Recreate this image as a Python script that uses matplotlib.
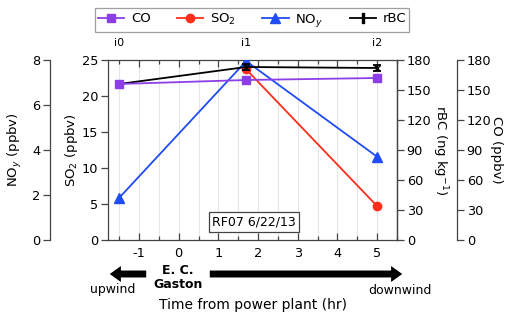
import matplotlib
matplotlib.use('Agg')
import matplotlib.pyplot as plt
from matplotlib.patches import FancyArrowPatch
from matplotlib.lines import Line2D
import matplotlib.transforms as mtransforms
import numpy as np

# --- data ---
labels = ['i0', 'i1', 'i2']
time_hr = [-1.5, 1.7, 5.0]

co_ppbv = [156, 160, 162]
rbc_ngkg = [156, 173, 172]
rbc_err = [2.5, 3, 3]
so2_time = [1.7, 5.0]
so2_ppbv = [23.7, 4.7]
noy_ppbv = [1.87, 7.95, 3.7]

purple = '#8c3fe6'
red = '#ff2d1a'
blue = '#1f4cf5'
spine_col = '#444444'

plt.rcParams['font.family'] = 'DejaVu Sans'
plt.rcParams['font.size'] = 10
plt.rcParams['axes.unicode_minus'] = False

fig = plt.figure(figsize=(5.11, 3.17), dpi=100)
W, H = 511, 317
ax = fig.add_axes([108 / W, 1 - 240 / H, 289 / W, 180 / H])

ax_noy = ax.twinx()
ax_rbc = ax.twinx()
ax_co = ax.twinx()

# NOy axis on the far left
ax_noy.yaxis.set_label_position('left')
ax_noy.yaxis.set_ticks_position('left')
ax_noy.spines['left'].set_position(('axes', -58 / 289))
for s in ['right', 'top', 'bottom']:
    ax_noy.spines[s].set_visible(False)

# CO axis on the far right
ax_co.spines['right'].set_position(('axes', (457 - 108) / 289))
for s in ['left', 'top', 'bottom']:
    ax_co.spines[s].set_visible(False)
for s in ['left', 'top', 'bottom']:
    ax_rbc.spines[s].set_visible(False)

for a in [ax, ax_noy, ax_rbc, ax_co]:
    for s in a.spines.values():
        s.set_color(spine_col)
        s.set_linewidth(0.9)
    a.tick_params(axis='y', direction='out', length=5, color=spine_col, width=0.9, pad=2,
                  labelsize=9.3)

ax.set_xlim(-1.78, 5.5)
ax.set_ylim(0, 25)
ax_noy.set_ylim(0, 8)
ax_rbc.set_ylim(0, 180)
ax_co.set_ylim(0, 180)

ax.set_xticks(np.arange(-1, 6, 1))
ax.set_xticks(np.arange(-1.5, 5.6, 0.5), minor=True)
ax.set_yticks(np.arange(0, 26, 5))
ax_noy.set_yticks(np.arange(0, 9, 2))
ax_rbc.set_yticks(np.arange(0, 181, 30))
ax_co.set_yticks(np.arange(0, 181, 30))

ax.tick_params(axis='x', which='both', direction='in', top=True, color=spine_col, width=0.9,
               labelsize=9.3)
ax.tick_params(axis='x', which='major', length=5, pad=5)
ax.tick_params(axis='x', which='minor', length=3)
ax.grid(axis='x', which='both', color='#e6e6e6', linewidth=0.8)
ax.set_axisbelow(True)

# axis labels placed at the positions seen in the reference
ax.set_ylabel('SO$_2$ (ppbv)', fontsize=9.5, va='center')
ax_noy.set_ylabel('NO$_y$ (ppbv)', fontsize=9.5, va='center')
ax_rbc.set_ylabel('rBC (ng kg$^{-1}$)', rotation=270, fontsize=9.5, va='center')
ax_co.set_ylabel('CO (ppbv)', rotation=270, fontsize=9.5, va='center')
ax.yaxis.set_label_coords((72 - 108) / 289, 0.5)
ax_noy.yaxis.set_label_coords((15 - 108) / 289, 0.5)
ax_rbc.yaxis.set_label_coords((440 - 108) / 289, 0.5)
ax_co.yaxis.set_label_coords((496 - 108) / 289, 0.5)

# --- series ---
ax_co.plot(time_hr, co_ppbv, color=purple, marker='s', markersize=6, linewidth=1.3)
ax_rbc.errorbar(time_hr, rbc_ngkg, yerr=rbc_err, color='black', marker='x', markersize=5,
                linewidth=1.3, capsize=3, elinewidth=1.3, capthick=1.3)
ax.plot(so2_time, so2_ppbv, color=red, marker='o', markersize=6, linewidth=1.3)
ax_noy.plot(time_hr, noy_ppbv, color=blue, marker='^', markersize=6.5, linewidth=1.3)

# labels above the intercepts
trans = mtransforms.blended_transform_factory(ax.transData, ax.transAxes)
for t, lab in zip(time_hr, labels):
    ax.text(t, 1 + 17 / 180, lab, transform=trans, ha='center', va='center', fontsize=8)

ax_noy.text((254 - 108) / 289, 18 / 180, 'RF07 6/22/13', transform=ax.transAxes,
            ha='center', va='center', fontsize=9,
            bbox=dict(boxstyle='square,pad=0.25', fc='white', ec=spine_col, lw=0.9))

# --- legend ---
handles = [
    Line2D([], [], color=purple, marker='s', markersize=6, linewidth=1.3),
    Line2D([], [], color=red, marker='o', markersize=6, linewidth=1.3),
    Line2D([], [], color=blue, marker='^', markersize=6.5, linewidth=1.3),
    Line2D([], [], color='black', marker='$\\mathbf{I}$', markersize=7, linewidth=1.3),
]
leg = fig.legend(handles, ['CO', 'SO$_2$', 'NO$_y$', 'rBC'], ncol=4, loc='center',
                 bbox_to_anchor=(252 / W, 1 - 20 / H), frameon=True, fancybox=False,
                 edgecolor='#888888', fontsize=9.5, columnspacing=2.0, handlelength=2.0,
                 handletextpad=0.5, borderpad=0.25, borderaxespad=0)
leg.get_frame().set_linewidth(0.9)

# --- upwind / downwind arrows ---
def fx(px):
    return px / W

def fy(py):
    return 1 - py / H

style = 'simple,head_length=8,head_width=11.5,tail_width=5'
fig.patches.append(FancyArrowPatch((fx(149), fy(274)), (fx(107), fy(274)), transform=fig.transFigure,
                                   arrowstyle=style, mutation_scale=1, color='black', lw=0))
fig.patches.append(FancyArrowPatch((fx(207), fy(274)), (fx(405), fy(274)), transform=fig.transFigure,
                                   arrowstyle=style, mutation_scale=1, color='black', lw=0))

fig.text(fx(178), fy(277), 'E. C.\nGaston', ha='center', va='center', fontsize=9,
         fontweight='bold', linespacing=1.1)
fig.text(fx(113), fy(290), 'upwind', ha='center', va='center', fontsize=9)
fig.text(fx(400), fy(290), 'downwind', ha='center', va='center', fontsize=9)
fig.text(fx(253), fy(305), 'Time from power plant (hr)', ha='center', va='center', fontsize=10)

fig.savefig('out.png', dpi=100)
